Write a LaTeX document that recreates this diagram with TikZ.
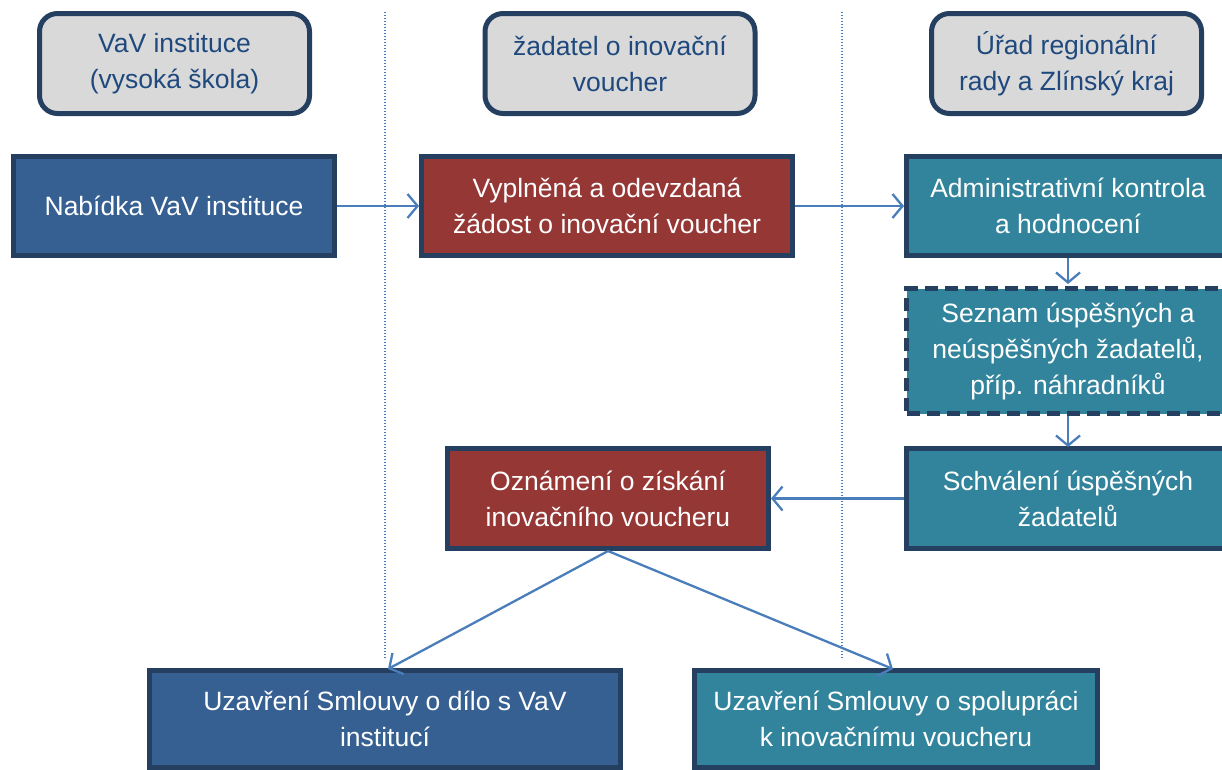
\documentclass[tikz,border=0pt]{standalone}
\usepackage{fontspec}
\setmainfont{Liberation Sans}
\usetikzlibrary{arrows.meta}
\definecolor{navy}{HTML}{243F60}
\definecolor{hdrfill}{HTML}{D9D9D9}
\definecolor{hdrtext}{HTML}{1F497D}
\definecolor{bluefill}{HTML}{366092}
\definecolor{redfill}{HTML}{953735}
\definecolor{tealfill}{HTML}{31849B}
\definecolor{arrowc}{HTML}{4A7EBB}
\tikzset{
  hdr/.style={draw=navy, line width=5pt, fill=hdrfill, rounded corners=18pt,
    text=hdrtext, align=center, minimum width=270pt, minimum height=100pt, inner sep=0pt,
    font=\fontsize{26.5}{36}\selectfont},
  box/.style={draw=navy, line width=5pt, text=white, align=center, inner sep=0pt,
    font=\fontsize{26.5}{36}\selectfont},
  bluebox/.style={box, fill=bluefill},
  redbox/.style={box, fill=redfill},
  tealbox/.style={box, fill=tealfill},
  conn/.style={draw=arrowc, line width=2.3pt, -{Straight Barb[length=10pt,width=24pt,line width=2.3pt]}},
  sep/.style={draw=arrowc, line width=2pt, dash pattern=on 1.2pt off 1.8pt},
}
\begin{document}
\begin{tikzpicture}[x=1pt,y=-1pt]
\useasboundingbox (0,0) rectangle (1222,769);
% separators
\draw[sep] (385,12) -- (385,658);
\draw[sep] (842,12) -- (842,658);
% headers
\node[hdr] (h1) at (174.5,63.5) {VaV instituce\\(vysoká škola)};
\node[hdr] (h2) at (620,63.5) {žadatel o inovační\\voucher};
\node[hdr] (h3) at (1066.5,63.5) {Úřad regionální\\rady a Zlínský kraj};
% boxes
\node[bluebox, minimum width=321pt, minimum height=99pt] (nab) at (174,206) {Nabídka VaV instituce};
\node[redbox, minimum width=371pt, minimum height=99pt] (vyp) at (607,206) {Vyplněná a odevzdaná\\žádost o inovační voucher};
\node[tealbox, minimum width=323pt, minimum height=99pt] (adm) at (1068,206) {Administrativní kontrola\\a hodnocení};
\node[tealbox, dashed, dash pattern=on 13pt off 7pt, minimum width=323pt, minimum height=125pt] (sez) at (1068,351) {Seznam úspěšných a\\neúspěšných žadatelů,\\příp. náhradníků};
\node[tealbox, minimum width=323pt, minimum height=100pt] (sch) at (1068,498.5) {Schválení úspěšných\\žadatelů};
\node[redbox, minimum width=321pt, minimum height=100pt] (ozn) at (608,498.5) {Oznámení o získání\\inovačního voucheru};
\node[bluebox, minimum width=471pt, minimum height=97pt] (uz1) at (385,719) {Uzavření Smlouvy o dílo s VaV\\institucí};
\node[tealbox, minimum width=403pt, minimum height=97pt] (uz2) at (896,719) {Uzavření Smlouvy o spolupráci\\k inovačnímu voucheru};
% connectors
\draw[conn] (nab.east) -- (vyp.west);
\draw[conn] (vyp.east) -- (adm.west);
\draw[conn] (adm.south) -- ([yshift=2pt]sez.north);
\draw[conn] (sez.south) -- ([yshift=-1pt]sch.north);
\draw[conn] (sch.west) -- (ozn.east);
\draw[conn] (ozn.south) -- ([xshift=3pt,yshift=-1pt]uz1.north);
\draw[conn] (ozn.south) -- ([xshift=-3pt,yshift=-1pt]uz2.north);
\end{tikzpicture}
\end{document}
